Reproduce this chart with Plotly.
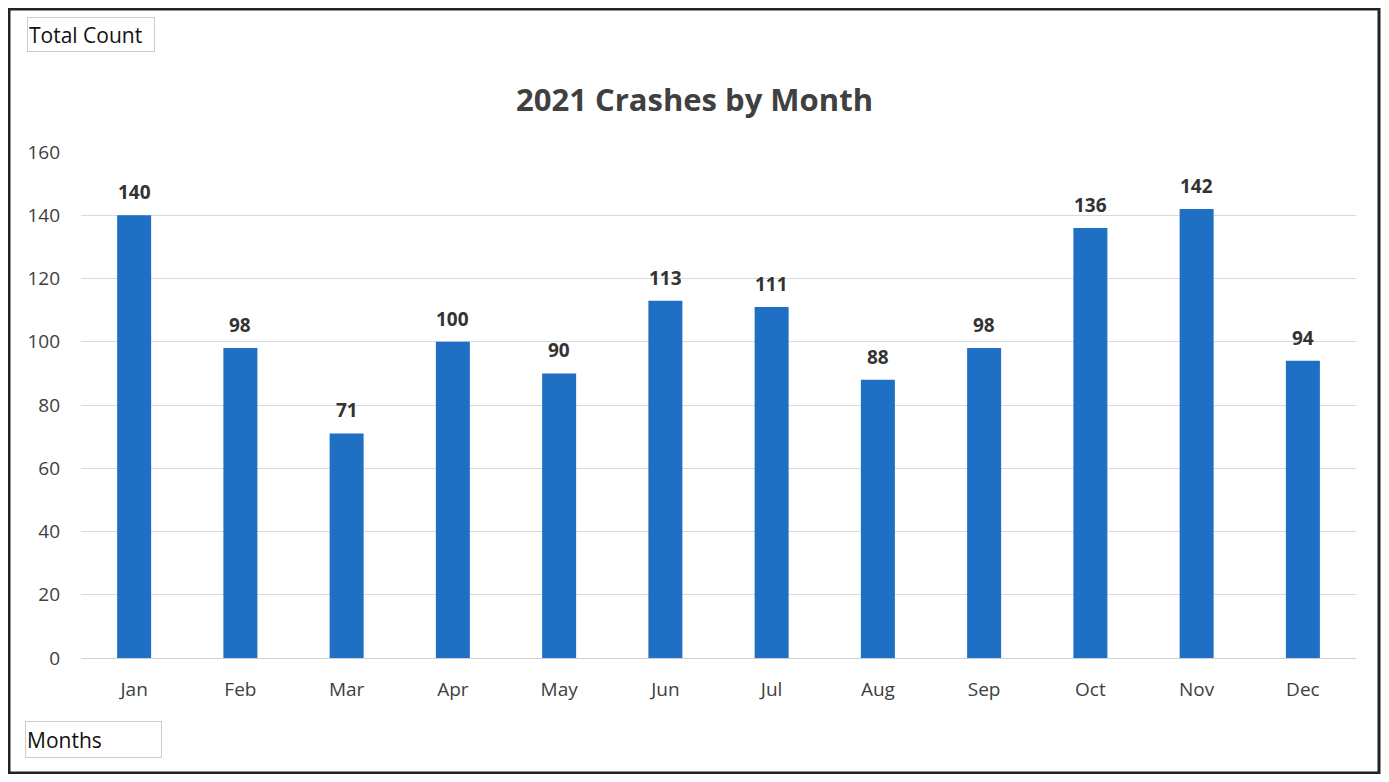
import plotly.graph_objects as go

months = ["Jan", "Feb", "Mar", "Apr", "May", "Jun", "Jul", "Aug", "Sep", "Oct", "Nov", "Dec"]
crashes = [140, 98, 71, 100, 90, 113, 111, 88, 98, 136, 142, 94]
y_ticks = [0, 20, 40, 60, 80, 100, 120, 140, 160]

# page body has an 8px margin, so the figure is made smaller to avoid scrolling
W, H = 1373, 766
L, R, T, B = 73, 25, 144, 116
pw, ph = W - L - R, H - T - B

def px_x(x):
    return (x - L) / pw

def px_y(y):
    return (H - B - y) / ph

font_fam = "Open Sans, Calibri, sans-serif"

fig = go.Figure()
fig.add_trace(go.Bar(
    x=months, y=crashes,
    marker=dict(color="#1F6FC5", line=dict(width=0)),
    hoverinfo="x+y",
))

# data labels above bars
for m, v in zip(months, crashes):
    fig.add_annotation(x=m, y=v, text="<b>%d</b>" % v, showarrow=False,
                       yanchor="bottom", yshift=8,
                       font=dict(family=font_fam, size=19, color="#333333"))

fig.update_layout(
    width=W, height=H,
    margin=dict(l=L, r=R, t=T, b=B),
    paper_bgcolor="white", plot_bgcolor="white",
    font=dict(family=font_fam, color="#404040"),
    bargap=0.68,
    showlegend=False,
    title=dict(text="<b>2021 Crashes by Month</b>", x=0.5, xanchor="center",
               y=(H - 92) / H, yanchor="middle", yref="container",
               font=dict(size=31, color="#404040", family=font_fam)),
)
fig.update_xaxes(showgrid=False, showline=True, linecolor="#d0d0d0", linewidth=1,
                 ticks="", tickfont=dict(size=19, color="#404040"), ticklabelstandoff=14)
fig.update_yaxes(range=[0, 160], tickvals=y_ticks, showgrid=True, gridcolor="#d9d9d9",
                 gridwidth=1, zeroline=False, showline=False, ticks="",
                 tickfont=dict(size=19, color="#404040"), ticklabelstandoff=20)

# outer frame
fig.add_shape(type="rect", xref="paper", yref="paper",
              x0=px_x(1), x1=px_x(1371), y0=px_y(765), y1=px_y(1),
              line=dict(color="#222222", width=3), fillcolor="rgba(0,0,0,0)")

# axis title boxes
fig.add_annotation(text="Total Count", xref="paper", yref="paper",
                   x=px_x(19), y=px_y(26.5), xanchor="left", yanchor="middle",
                   showarrow=False, width=124, height=31, align="left",
                   bordercolor="#cccccc", borderwidth=1, borderpad=1,
                   font=dict(size=21, color="#111111", family=font_fam))
fig.add_annotation(text="Months", xref="paper", yref="paper",
                   x=px_x(17), y=px_y(731.5), xanchor="left", yanchor="middle",
                   showarrow=False, width=133, height=33, align="left",
                   bordercolor="#cccccc", borderwidth=1, borderpad=1,
                   font=dict(size=21, color="#111111", family=font_fam))

fig.write_html("out.html")
